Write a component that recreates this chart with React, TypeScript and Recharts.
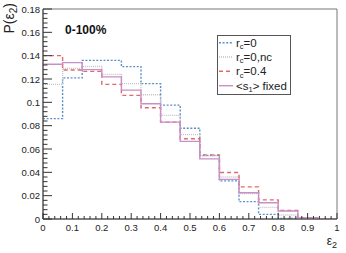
import React from 'react';
import { LineChart, Line, XAxis, YAxis, ReferenceArea } from 'recharts';

// bin edges of the 15-bin histogram
const edges = [0, 0.0667, 0.1333, 0.2, 0.2667, 0.3333, 0.4, 0.4667, 0.5333, 0.6, 0.6667, 0.7333, 0.8, 0.8667, 0.9333, 1];

// P(eps2) per bin
const rc0 = [0.086, 0.121, 0.136, 0.136, 0.1306, 0.116, 0.0976, 0.0778, 0.0545, 0.0327, 0.0149, 0.004, 0.0005, 0.0001, 0];
const rc0nc = [0.1154, 0.129, 0.1307, 0.124, 0.116, 0.1065, 0.0888, 0.0723, 0.054, 0.036, 0.0218, 0.01, 0.0034, 0.0006, 0.0001];
const rc04 = [0.14, 0.1277, 0.1265, 0.1154, 0.106, 0.0953, 0.083, 0.0688, 0.055, 0.0398, 0.0275, 0.0164, 0.0074, 0.0012, 0.0002];
const s1fixed = [0.1326, 0.134, 0.128, 0.1218, 0.1105, 0.0988, 0.083, 0.0665, 0.0515, 0.034, 0.0225, 0.0139, 0.0068, 0.001, 0.0001];

const xMajor = [0, 0.1, 0.2, 0.3, 0.4, 0.5, 0.6, 0.7, 0.8, 0.9, 1];
const yMajor = [0, 0.02, 0.04, 0.06, 0.08, 0.1, 0.12, 0.14, 0.16, 0.18];

const xTicks = Array.from({ length: 51 }, (_, i) => +(i * 0.02).toFixed(4));
const yTicks = Array.from({ length: 46 }, (_, i) => +(i * 0.004).toFixed(4));

const FONT = '"Liberation Sans", Arial, Helvetica, sans-serif';

const series = [
  { key: 'a', values: rc0, color: '#5b8ec9', dash: '2 1.6', label: ['r', 'c', '=0'] },
  { key: 'b', values: rc0nc, color: '#c4c4c4', dash: '1 1', label: ['r', 'c', '=0,nc'] },
  { key: 'c', values: rc04, color: '#e06a6a', dash: '4 3', label: ['r', 'c', '=0.4'] },
  { key: 'd', values: s1fixed, color: '#c98fc9', dash: undefined, label: ['<s', '1', '> fixed'] },
];

const data = edges.map((x, i) => {
  const row: any = { x };
  series.forEach((s) => { row[s.key] = s.values[Math.min(i, s.values.length - 1)]; });
  return row;
});

const isMajor = (v: number, list: number[]) => list.some((m) => Math.abs(m - v) < 1e-6);
const fmt = (v: number) => String(Number(v.toFixed(2)));

const XTick = (props: any) => {
  const { x, y, payload } = props;
  const major = isMajor(payload.value, xMajor);
  return (
    <g>
      <line x1={x} x2={x} y1={y} y2={y - (major ? 6 : 3)} stroke="#333" />
      {major && (
        <text x={x} y={y + 12} textAnchor="middle" fontSize={9.5} fill="#222" fontFamily={FONT}>
          {fmt(payload.value)}
        </text>
      )}
    </g>
  );
};

const YTick = (props: any) => {
  const { x, y, payload } = props;
  const major = isMajor(payload.value, yMajor);
  return (
    <g>
      <line x1={x} x2={x + (major ? 9 : 4.5)} y1={y} y2={y} stroke="#333" />
      {major && (
        <text x={x - 3} y={y + 3.5} textAnchor="end" fontSize={9.5} fill="#222" fontFamily={FONT}>
          {fmt(payload.value)}
        </text>
      )}
    </g>
  );
};

const rowY = [42.7, 57, 71.3, 85.7];

export default function App() {
  return (
    <div style={{ position: 'fixed', left: 0, top: 0, width: 346, height: 253, background: '#fff' }}>
      <LineChart width={346} height={253} data={data} margin={{ top: 9, right: 9, left: 0, bottom: 0 }}>
        <XAxis
          dataKey="x"
          type="number"
          domain={[0, 1]}
          ticks={xTicks}
          interval={0}
          tick={<XTick />}
          tickLine={false}
          tickSize={0}
          tickMargin={0}
          height={34}
          stroke="#444"
          allowDataOverflow
        />
        <YAxis
          type="number"
          domain={[0, 0.18]}
          ticks={yTicks}
          interval={0}
          tick={<YTick />}
          tickLine={false}
          tickSize={0}
          tickMargin={0}
          width={43}
          stroke="#444"
          allowDataOverflow
        />
        <ReferenceArea x1={0} x2={1} y1={0} y2={0.18} fill="none" stroke="#777" strokeWidth={1} />
        {series.map((s) => (
          <Line
            key={s.key}
            dataKey={s.key}
            type="stepAfter"
            stroke={s.color}
            strokeWidth={1.4}
            strokeDasharray={s.dash}
            dot={false}
            activeDot={false}
            isAnimationActive={false}
          />
        ))}
      </LineChart>
      <svg
        width={346}
        height={253}
        style={{ position: 'absolute', left: 0, top: 0, pointerEvents: 'none' }}
        fontFamily={FONT}
      >
        <text transform="translate(14,3) rotate(-90)" textAnchor="end" fontSize={14} fill="#222">
          P(ε<tspan dy={3} fontSize={10}>2</tspan><tspan dy={-3}>)</tspan>
        </text>
        <text x={337} y={245} textAnchor="end" fontSize={12} fill="#222">
          ε<tspan dy={3} fontSize={9}>2</tspan>
        </text>
        <text x={65} y={34} fontSize={12} fontWeight="bold" fill="#111">0-100%</text>
        <rect x={217.5} y={35.5} width={73} height={59} fill="#fff" stroke="#555" />
        {series.map((s, i) => (
          <g key={s.key}>
            <line x1={219} x2={233} y1={rowY[i]} y2={rowY[i]} stroke={s.color} strokeWidth={1.4} strokeDasharray={s.dash} />
            <text x={236} y={rowY[i] + 3.8} fontSize={11.5} fill="#222">
              {s.label[0]}
              <tspan dy={2.5} fontSize={7.5}>{s.label[1]}</tspan>
              <tspan dy={-2.5}>{s.label[2]}</tspan>
            </text>
          </g>
        ))}
      </svg>
    </div>
  );
}
